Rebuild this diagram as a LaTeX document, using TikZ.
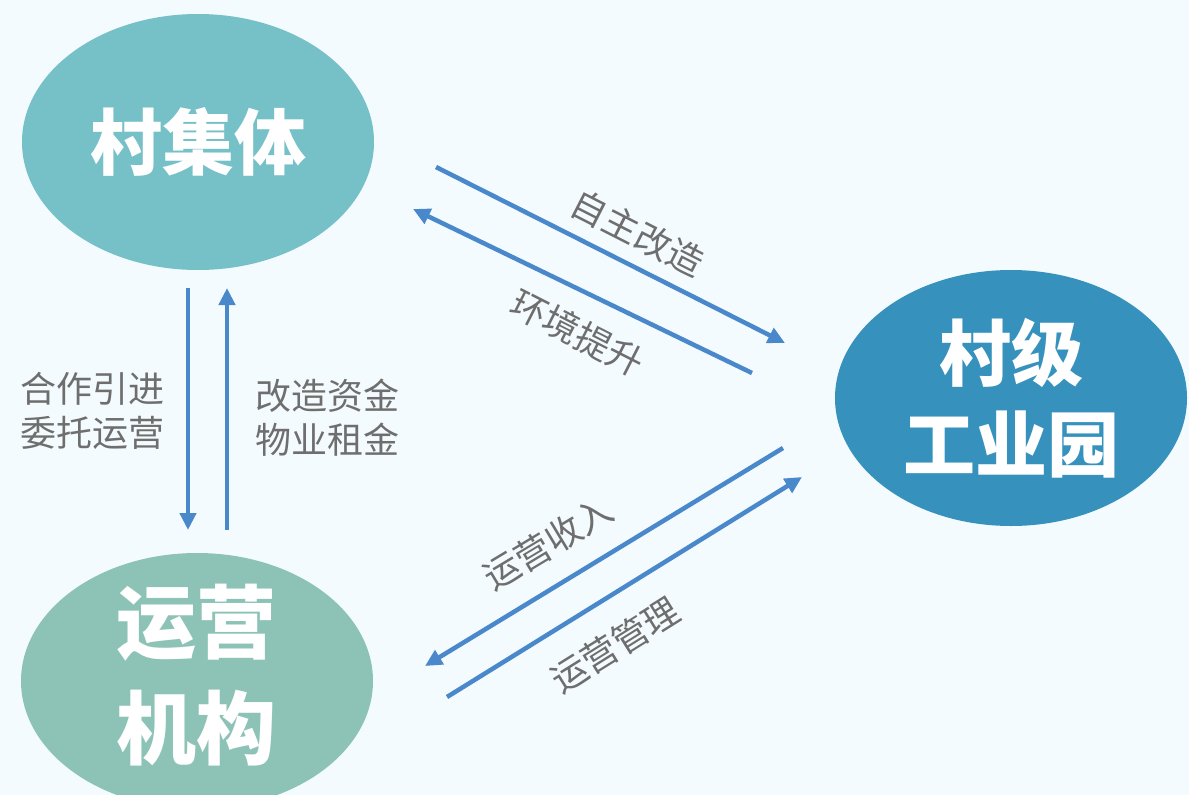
\documentclass[tikz,border=0pt]{standalone}
\usepackage{fontspec}
\newfontfamily\cjk{Noto Sans CJK SC}
\usetikzlibrary{shapes.geometric,arrows.meta}
\definecolor{bgc}{HTML}{F4FBFE}
\definecolor{cA}{HTML}{76C0C8}
\definecolor{cB}{HTML}{3692BD}
\definecolor{cC}{HTML}{8DC3B6}
\definecolor{arrc}{HTML}{4A88CC}
\definecolor{txtg}{HTML}{6E6E6E}
\tikzset{
  blob/.style={ellipse, draw=none, inner sep=0pt, text=white, align=center,
    minimum width=352pt, minimum height=256pt},
  arr/.style={line width=4.5pt, draw=arrc, -{Triangle[length=17pt,width=16pt]}},
  lbl/.style={text=txtg, font=\cjk\fontsize{36}{44}\selectfont, align=left, inner sep=0pt}
}
\begin{document}
\begin{tikzpicture}[x=1pt,y=-1pt]
\fill[bgc] (0,0) rectangle (1189,795);
\useasboundingbox (0,0) rectangle (1189,795);
\clip (0,0) rectangle (1189,795);

\node[blob, fill=cA, font=\cjk\bfseries\fontsize{72}{90}\selectfont] (cjt) at (198,142) {村集体};
\node[blob, fill=cB, font=\cjk\bfseries\fontsize{72}{91}\selectfont] (gyy) at (1011,398) {村级\\工业园};
\node[blob, fill=cC, font=\cjk\bfseries\fontsize{80}{106}\selectfont] (yyjg) at (197,681) {};
\node[text=white, align=center, inner sep=0pt, font=\cjk\bfseries\fontsize{80}{106}\selectfont] (yyjgt) at (196,675) {运营\\机构};

% connector end points
\coordinate (v1s) at (188,288); \coordinate (v1e) at (188,530);
\coordinate (v2s) at (227,530); \coordinate (v2e) at (227,288);
\coordinate (d1s) at (436,167); \coordinate (d1e) at (785,343);
\coordinate (d2s) at (752,373); \coordinate (d2e) at (413,209);
\coordinate (d3s) at (783,448); \coordinate (d3e) at (425,666);
\coordinate (d4s) at (447,697); \coordinate (d4e) at (802,477);

\draw[arr] (v1s) -- (v1e);
\draw[arr] (v2s) -- (v2e);
\draw[arr] (d1s) -- (d1e);
\draw[arr] (d2s) -- (d2e);
\draw[arr] (d3s) -- (d3e);
\draw[arr] (d4s) -- (d4e);

\node[lbl] (l1) at (92,411) {合作引进\\委托运营};
\node[lbl] (l2) at (327,418) {改造资金\\物业租金};
\node[lbl, rotate=-27] (l3) at (638,233) {自主改造};
\node[lbl, rotate=-27] (l4) at (578,333) {环境提升};
\node[lbl, rotate=31] (l5) at (548,543) {运营收入};
\node[lbl, rotate=32] (l6) at (615,645) {运营管理};
\end{tikzpicture}
\end{document}
